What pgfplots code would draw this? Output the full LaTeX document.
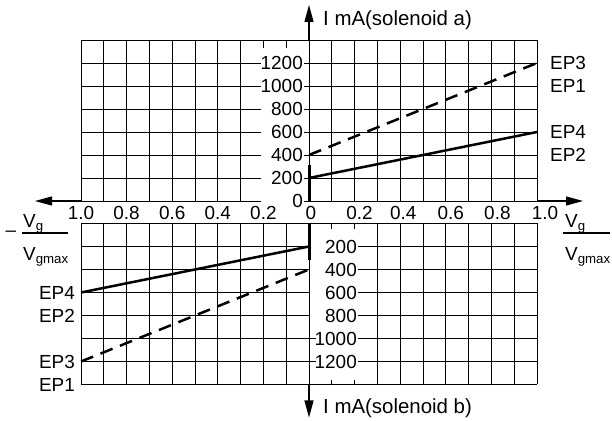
\documentclass[border=0pt]{standalone}
\usepackage{fontspec}
\setmainfont{Liberation Sans}
\usepackage{pgfplots}
\pgfplotsset{compat=1.18}
\usetikzlibrary{arrows.meta}

\tikzset{myarrow/.style={line width=1.1bp, -{Triangle[length=17bp,width=9bp]}}}
\pgfplotsset{
  myaxis/.style={
    set layers,
    scale only axis, width=456bp, height=161bp,
    xmin=-1, xmax=1,
    axis line style={draw=none},
    major tick length=0pt, minor tick length=0pt,
    xtick={-1,-0.8,-0.6,-0.4,-0.2,0,0.2,0.4,0.6,0.8,1},
    minor xtick={-1,-0.9,-0.8,-0.7,-0.6,-0.5,-0.4,-0.3,-0.2,-0.1,0,0.1,0.2,0.3,0.4,0.5,0.6,0.7,0.8,0.9,1},
    grid=minor,
    minor grid style={line width=0.9bp, black},
    clip=false,
    tick label style={font=\fontsize{19}{22}\selectfont},
    yticklabel style={anchor=east, inner sep=0pt},
  },
}

\begin{document}
\fontsize{19}{22}\selectfont
\begin{tikzpicture}[font=\fontsize{19}{22}\selectfont]
% upper panel (solenoid a)
\begin{axis}[myaxis, at={(81bp,220bp)}, anchor=south west,
  ymin=0, ymax=1400,
  minor ytick={0,200,400,600,800,1000,1200,1400},
  xticklabels={1.0,0.8,0.6,0.4,0.2,\hspace*{4bp}0,\hspace*{10bp}0.2,\hspace*{6bp}0.4,\hspace*{10bp}0.6,\hspace*{12bp}0.8,\hspace*{16bp}1.0},
  xticklabel style={yshift=1bp},
  ytick={0,200,400,600,800,1000,1200},
  yticklabels={0,200,400,600,800,1000,1200},
  yticklabel style={xshift=222bp},
]
\begin{pgfonlayer}{axis ticks}
\fill[white] (axis cs:-0.212,-15) rectangle (axis cs:-0.022,1330);
\end{pgfonlayer}
\addplot[line width=2.5bp] coordinates {(0,200) (1,600)};
\addplot[line width=2.5bp, dash pattern=on 13bp off 8bp] coordinates {(0,400) (1,1200)};
\addplot[line width=3bp] coordinates {(0,0) (0,310)};
\draw[myarrow] (axis cs:0,1400) -- ++(0bp,35bp);
\draw[myarrow] (axis cs:-1,0) -- ++(-46bp,0bp);
\draw[myarrow] (axis cs:1,0) -- ++(46bp,0bp);
\end{axis}

% lower panel (solenoid b)
\begin{axis}[myaxis, at={(81bp,36.5bp)}, anchor=south west,
  ymin=-1400, ymax=0,
  minor ytick={-1400,-1200,-1000,-800,-600,-400,-200,0},
  xticklabels={,,,,,,,,,,},
  xticklabel style={opacity=0},
  ytick={-200,-400,-600,-800,-1000,-1200},
  yticklabels={200,400,600,800,1000,1200},
  yticklabel style={xshift=276bp},
]
\begin{pgfonlayer}{axis ticks}
\fill[white] (axis cs:0.004,-45) rectangle (axis cs:0.215,-1365);
\end{pgfonlayer}
\draw[line width=0.9bp] (axis cs:0,-1000) -- (axis cs:0.03,-1000);
\draw[line width=0.9bp] (axis cs:0,-1200) -- (axis cs:0.03,-1200);
\addplot[line width=2.5bp] coordinates {(-1,-600) (0,-200)};
\addplot[line width=2.5bp, dash pattern=on 13bp off 8bp] coordinates {(-1,-1200) (0,-400)};
\addplot[line width=3bp] coordinates {(0,0) (0,-320)};
\draw[myarrow] (axis cs:0,-1400) -- ++(0bp,-33bp);
\end{axis}

% axis titles
\node[anchor=west, inner sep=0pt, font=\fontsize{20.5}{24}\selectfont] at (323bp,401bp) {I mA(solenoid a)};
\node[anchor=west, inner sep=0pt, font=\fontsize{20.5}{24}\selectfont] at (323bp,13bp) {I mA(solenoid b)};

% curve labels right
\node[anchor=west, inner sep=0pt] at (550bp,358bp) {EP3};
\node[anchor=west, inner sep=0pt] at (550bp,335bp) {EP1};
\node[anchor=west, inner sep=0pt] at (550bp,289bp) {EP4};
\node[anchor=west, inner sep=0pt] at (550bp,266bp) {EP2};
% curve labels left
\node[anchor=east, inner sep=0pt] at (75bp,128bp) {EP4};
\node[anchor=east, inner sep=0pt] at (75bp,105bp) {EP2};
\node[anchor=east, inner sep=0pt] at (75bp,59bp) {EP3};
\node[anchor=east, inner sep=0pt] at (75bp,36bp) {EP1};

% right fraction
\node[anchor=base west, inner sep=0pt] at (565bp,193bp) {V\textsubscript{g}};
\draw[line width=1.3bp] (563bp,188bp) -- (610bp,188bp);
\node[anchor=base west, inner sep=0pt] at (565bp,160bp) {V\textsubscript{gmax}};
% left fraction
\node[anchor=base, inner sep=0pt] at (11bp,184bp) {–};
\node[anchor=base west, inner sep=0pt] at (23bp,193.5bp) {V\textsubscript{g}};
\draw[line width=1.3bp] (22bp,188bp) -- (68bp,188bp);
\node[anchor=base west, inner sep=0pt] at (23bp,160bp) {V\textsubscript{gmax}};

\pgfresetboundingbox
\useasboundingbox (0bp,0bp) rectangle (612bp,421bp);
\end{tikzpicture}
\end{document}
